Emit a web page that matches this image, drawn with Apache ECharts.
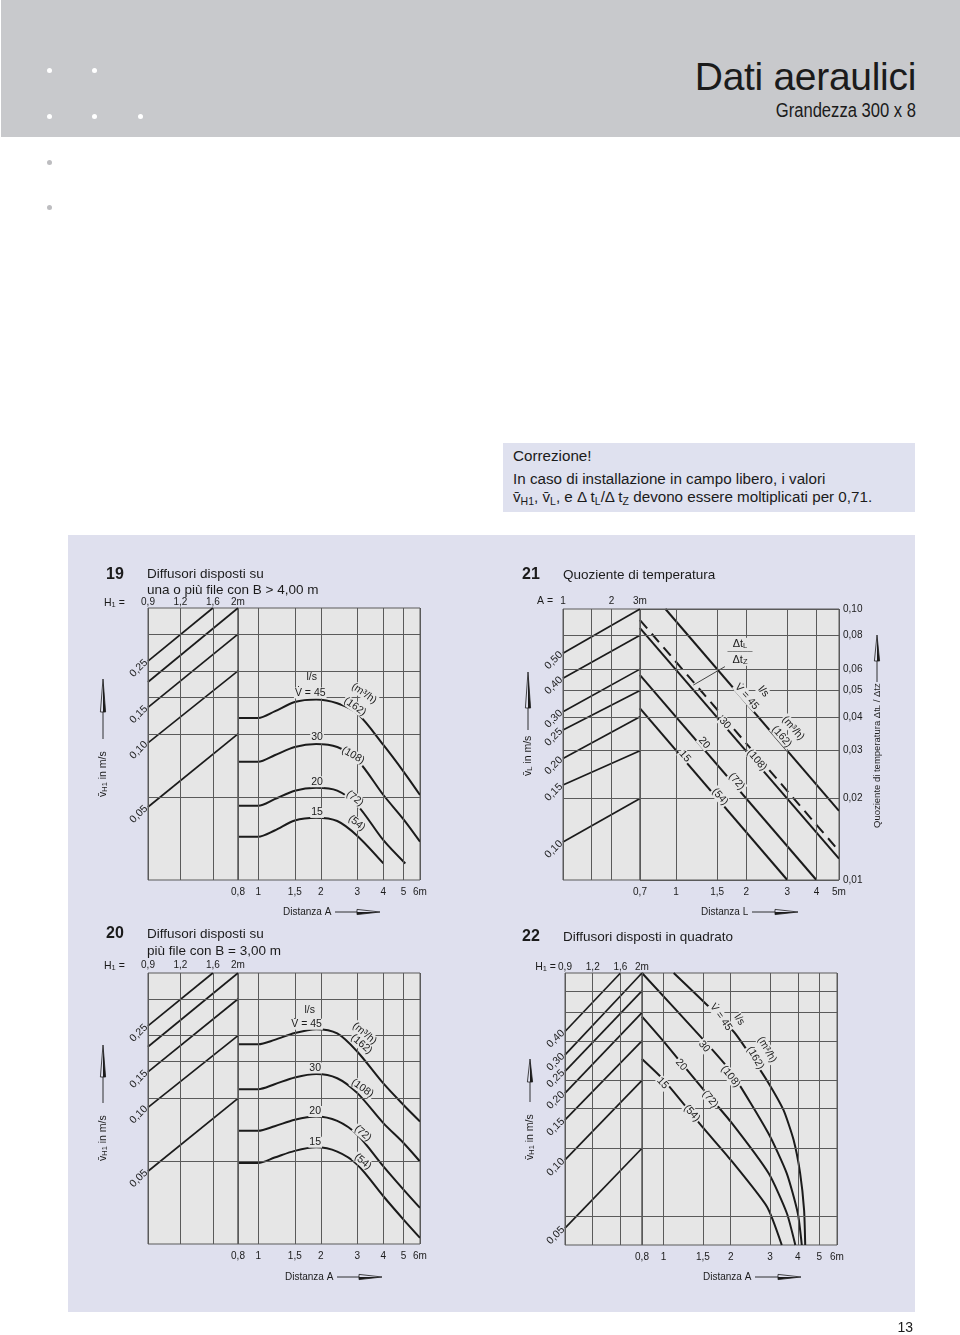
<!DOCTYPE html>
<html lang="it">
<head>
<meta charset="utf-8">
<title>Dati aeraulici</title>
<script src="https://cdn.jsdelivr.net/npm/echarts@6.0.0/dist/echarts.min.js"></script>
<style>
  html, body { margin: 0; padding: 0; background: #fff; }
  body { position: relative; width: 960px; height: 1335px; overflow: hidden; font-family: 'Liberation Sans', Arial, sans-serif; color: #1b1b1b; }
  .fascia { position: absolute; left: 1px; top: 0; width: 959px; height: 137px; background: #c8c9cc; }
  .punto { position: absolute; width: 5px; height: 5px; border-radius: 50%; background: #fff; }
  .punto.grigio { background: #bdbdc0; }
  h1 { position: absolute; right: 44px; top: 57px; margin: 0; font-size: 39px; font-weight: normal; line-height: 1; letter-spacing: -0.3px; white-space: nowrap; }
  .sotto { position: absolute; right: 44px; top: 100px; font-size: 20px; line-height: 1; transform: scaleX(0.83); transform-origin: right center; white-space: nowrap; }
  .nota { position: absolute; left: 503px; top: 443px; width: 412px; height: 69px; background: #dfe1ef; font-size: 15.2px; }
  .nota div { position: absolute; left: 10px; white-space: nowrap; line-height: 1; }
  .nota sub { font-size: 10.5px; line-height: 0; vertical-align: -3px; }
  .pannello { position: absolute; left: 68px; top: 535px; width: 847px; height: 777px; background: #dfe0ee; }
  #grafico { position: absolute; left: 0; top: 0; width: 960px; height: 1335px; }
  .pagina { position: absolute; right: 47px; top: 1320px; font-size: 14px; line-height: 1; }
</style>
</head>
<body>
<div class="fascia"></div>
<div class="punto" style="left:47px;top:68px"></div>
<div class="punto" style="left:92px;top:68px"></div>
<div class="punto" style="left:47px;top:114px"></div>
<div class="punto" style="left:92px;top:114px"></div>
<div class="punto" style="left:138px;top:114px"></div>
<div class="punto grigio" style="left:47px;top:160px"></div>
<div class="punto grigio" style="left:47px;top:205px"></div>
<h1>Dati aeraulici</h1>
<div class="sotto">Grandezza 300 x 8</div>
<div class="nota">
  <div style="top:5px">Correzione!</div>
  <div style="top:28px">In caso di installazione in campo libero, i valori</div>
  <div style="top:46px">v&#772;<sub>H1</sub>, v&#772;<sub>L</sub>, e &Delta; t<sub>L</sub>/&Delta; t<sub>Z</sub> devono essere moltiplicati per 0,71.</div>
</div>
<div class="pannello"></div>
<div id="grafico"></div>
<div class="pagina">13</div>

<script>
const FONT = "'Liberation Sans', Arial, sans-serif";
const INK = '#1b1b1b';
const GRID = '#5a5a5a';
const PLOT = '#e6e6e6';

// assi comuni (19, 20, 22)
const h1Ticks = [0.9, 1.2, 1.6, 2];
const h1Labels = ['0,9', '1,2', '1,6', '2m'];
const distTicks = [0.8, 1, 1.5, 2, 3, 4, 5, 6];
const distLabels = ['0,8', '1', '1,5', '2', '3', '4', '5', '6m'];

// ---- 19: file con B > 4,00 m ----
const vLines19 = [0.05, 0.1, 0.15, 0.2, 0.3];
const diagLabels19 = ['0,25', '', '0,15', '0,10', '0,05'];
const diagStart19 = [0.223, 0.177, 0.134, 0.0905, 0.0447];
const diagEndH19 = [1.6, 2, 2, 2, 2];
const diagEnd19 = [0.4, 0.4, 0.3, 0.2, 0.1];
const dist19 = [0.8, 1, 1.2, 1.5, 1.9, 2.4, 3, 4, 5, 6];
const v19_45 = [0.119, 0.119, 0.128, 0.142, 0.146, 0.140, 0.125, 0.0885, 0.066, 0.051];
const v19_30 = [0.0736, 0.0736, 0.079, 0.0865, 0.0894, 0.0865, 0.075, 0.051, 0.039, 0.0305];
const dist19_20 = [0.8, 1, 1.2, 1.5, 1.9, 2.4, 3, 4, 5.1];
const v19_20 = [0.0453, 0.0453, 0.0487, 0.0535, 0.0552, 0.0535, 0.0455, 0.031, 0.024];
const dist19_15 = [0.8, 1, 1.2, 1.5, 1.9, 2.4, 3, 4];
const v19_15 = [0.0322, 0.0322, 0.0345, 0.0385, 0.0397, 0.0383, 0.0325, 0.024];
const lab19 = ['l/s', 'V\u0307 = 45', '(m³/h)', '(162)', '30', '(108)', '20', '(72)', '15', '(54)'];
const lab19D = [1.81, 1.78, 3.23, 2.92, 1.92, 2.86, 1.92, 2.92, 1.92, 2.98];
const lab19V = [0.186, 0.157, 0.156, 0.135, 0.096, 0.079, 0.059, 0.0491, 0.0421, 0.0374];

// ---- 20: file con B = 3,00 m ----
const diagStart20 = [0.223, 0.177, 0.134, 0.0905, 0.0447];
const diagEnd20 = [0.4, 0.4, 0.3, 0.2, 0.1];
const v20_45 = [0.182, 0.182, 0.191, 0.206, 0.215, 0.205, 0.1675, 0.118, 0.093, 0.0775];
const v20_30 = [0.1107, 0.1107, 0.117, 0.126, 0.131, 0.125, 0.106, 0.0761, 0.0611, 0.0498];
const v20_20 = [0.0699, 0.0699, 0.0735, 0.079, 0.0819, 0.078, 0.0669, 0.0472, 0.0365, 0.0298];
const v20_15 = [0.049, 0.049, 0.052, 0.056, 0.0582, 0.0555, 0.048, 0.0339, 0.0262, 0.0214];
const lab20D = [1.77, 1.71, 3.25, 3.14, 1.88, 3.17, 1.88, 3.19, 1.88, 3.19];
const lab20V = [0.265, 0.227, 0.205, 0.182, 0.14, 0.112, 0.0865, 0.068, 0.0616, 0.0498];

// ---- 21: quoziente di temperatura ----
const aTicks = [1, 1.5, 2, 3];
const aLabels = ['1', '', '2', '3m'];
const distLTicks = [0.7, 1, 1.5, 2, 3, 4, 5];
const distLLabels = ['0,7', '1', '1,5', '2', '3', '4', '5m'];
const qTicks = [0.01, 0.02, 0.03, 0.04, 0.05, 0.06, 0.08, 0.1];
const qLabels = ['0,01', '0,02', '0,03', '0,04', '0,05', '0,06', '0,08', '0,10'];
const vLLabels = ['0,50', '0,40', '0,30', '0,25', '0,20', '0,15', '0,10'];
const vLStart = [0.0687, 0.0555, 0.0418, 0.0358, 0.0281, 0.0224, 0.0138];
const vLEnd = [0.1, 0.08, 0.06, 0.05, 0.04, 0.03, 0.02];
const dL45 = [0.9, 5], q45 = [0.1, 0.018];
const dL30 = [0.7, 5], q30 = [0.085, 0.012];
const dLdt = [0.7, 5], qDt = [0.091, 0.0128];
const dL20 = [0.7, 4], q20 = [0.057, 0.01];
const dL15 = [0.7, 3], q15 = [0.043, 0.01];
const dLead = [1.62, 1.186], qLead = [0.0613, 0.0524];
const lab21 = ['V\u0307 = 45', 'l/s', '(m³/h)', '(162)', '30', '(108)', '20', '(72)', '15', '(54)', '{n|Δt}{s|L}\n{b|─────}\n{n|Δt}{s|Z}'];
const lab21D = [2.01, 2.37, 3.18, 2.84, 1.62, 2.22, 1.32, 1.82, 1.09, 1.545, 1.88];
const lab21Q = [0.0475, 0.0496, 0.0363, 0.0338, 0.0379, 0.0277, 0.0321, 0.0231, 0.0286, 0.0203, 0.0695];

// ---- 22: diffusori in quadrato ----
const vLines22 = [0.025, 0.05, 0.075, 0.1, 0.15, 0.2, 0.25];
const diagLabels22 = ['0,40', '0,30', '0,25', '0,20', '0,15', '0,10', '0,05'];
const diagStart22 = [0.165, 0.130, 0.1097, 0.0879, 0.0669, 0.0444, 0.0221];
const diagEndH22 = [1.6, 2, 2, 2, 2, 2, 2];
const diagEnd22 = [0.3, 0.3, 0.25, 0.2, 0.15, 0.1, 0.05];
const d22_45 = [1.11, 2.06, 2.53, 2.96, 3.45, 3.83, 4.1, 4.27, 4.32];
const v22_45 = [0.3, 0.165, 0.1235, 0.0973, 0.074, 0.0545, 0.0387, 0.0266, 0.0186];
const d22_30 = [0.8, 1.51, 2.0, 2.96, 3.57, 4.0, 4.17];
const v22_30 = [0.3, 0.1515, 0.1097, 0.058, 0.0387, 0.0258, 0.0186];
const d22_20 = [0.8, 1.0, 1.51, 2.0, 2.96, 3.57, 3.9];
const v22_20 = [0.192, 0.149, 0.091, 0.0656, 0.0387, 0.0258, 0.0186];
const d22_15 = [0.8, 1.0, 1.51, 2.0, 2.91, 3.39];
const v22_15 = [0.1245, 0.1006, 0.0614, 0.0444, 0.0275, 0.0186];
const lab22 = ['V\u0307 = 45', 'l/s', '(m³/h)', '(162)', '30', '(108)', '20', '(72)', '15', '(54)'];
const lab22D = [1.81, 2.19, 2.91, 2.58, 1.52, 2.0, 1.2, 1.62, 0.99, 1.34];
const lab22V = [0.191, 0.186, 0.137, 0.126, 0.1415, 0.104, 0.1175, 0.0826, 0.0973, 0.0716];

// rotazione delle scritte sulle curve
const rot19 = [0, 0, -35, -35, 0, -30, 0, -38, 0, -38];
const rot20 = [0, 0, -40, -40, 0, -35, 0, -40, 0, -40];
const rot21 = [-49, -49, -49, -49, -49, -49, -49, -49, -49, -49, 0];
const rot22 = [-55, -55, -60, -60, -50, -52, -48, -50, -48, -48];

const RICH = {
    s: { fontSize: 7.5, lineHeight: 8, verticalAlign: 'bottom', fontFamily: FONT, color: INK },
    n: { fontSize: 11, lineHeight: 12, fontFamily: FONT, color: INK },
    b: { fontSize: 7, lineHeight: 4, fontFamily: FONT, color: INK }
};

const grids = [], xAxes = [], yAxes = [], series = [];

function addGrid(box, xr, yr) {
    const i = grids.length;
    grids.push({ left: box[0], top: box[1], width: box[2], height: box[3], show: true,
        backgroundColor: PLOT, borderColor: GRID, borderWidth: 1 });
    xAxes.push({ type: 'log', gridIndex: i, min: xr[0], max: xr[1], show: false });
    yAxes.push({ type: 'log', gridIndex: i, min: yr[0], max: yr[1], show: false });
    return i;
}

// linee del reticolo con le loro scritte
function griglia(gi, xv, xl, xPos, xDist, yv, yl, yPos, yDist) {
    const data = [];
    xv.forEach((v, k) => data.push({ xAxis: v,
        label: { show: !!(xl && xl[k]), formatter: xl ? xl[k] : '', position: xPos, distance: xDist } }));
    yv.forEach((v, k) => data.push({ yAxis: v,
        label: { show: !!(yl && yl[k]), formatter: yl ? yl[k] : '', position: yPos, distance: yDist } }));
    series.push({ type: 'line', xAxisIndex: gi, yAxisIndex: gi, data: [], z: 1, silent: true,
        markLine: { symbol: 'none', silent: true, animation: false, precision: 5,
            lineStyle: { color: GRID, width: 1, type: 'solid' },
            label: { color: INK, fontSize: 10, fontFamily: FONT },
            emphasis: { disabled: true }, data } });
}

// rette oblique di conversione, con il valore scritto all'inizio
function rette(gi, x0, x1, starts, ends, labels) {
    starts.forEach((s, k) => {
        series.push({ type: 'line', xAxisIndex: gi, yAxisIndex: gi, z: 3, silent: true,
            symbol: 'circle', symbolSize: 0, showSymbol: true,
            lineStyle: { color: INK, width: 1.7 },
            data: [
                { value: [x0, s], label: { show: labels[k] !== '', formatter: labels[k], position: 'left',
                    rotate: 45, distance: 2, fontSize: 10.5, fontFamily: FONT, color: INK } },
                [Array.isArray(x1) ? x1[k] : x1, ends[k]]
            ] });
    });
}

function curva(gi, xs, ys, extra) {
    series.push(Object.assign({ type: 'line', xAxisIndex: gi, yAxisIndex: gi, z: 3, silent: true,
        showSymbol: false, smooth: 0.3,
        lineStyle: { color: INK, width: 2 },
        data: xs.map((x, k) => [x, ys[k]]) }, extra || {}));
}

function scritte(gi, texts, xs, ys, rots) {
    series.push({ type: 'line', xAxisIndex: gi, yAxisIndex: gi, data: [], z: 5, silent: true,
        markPoint: { symbol: 'circle', symbolSize: 0, silent: true, animation: false,
            itemStyle: { color: 'rgba(0,0,0,0)' },
            label: { show: true, position: 'inside', color: INK, fontSize: 10.5, fontFamily: FONT,
                backgroundColor: PLOT, padding: [0, 1], rich: RICH },
            data: texts.map((t, k) => ({ coord: [xs[k], ys[k]], value: 0,
                label: { formatter: t, rotate: rots[k] } })) } });
}

// ---------- 19 ----------
const g19a = addGrid([148, 608, 90, 272], [0.9, 2], [0.02, 0.4]);
const g19b = addGrid([238, 608, 182, 272], [0.8, 6], [0.02, 0.4]);
griglia(g19a, h1Ticks, h1Labels, 'end', 1, vLines19, null);
griglia(g19b, distTicks, distLabels, 'start', 7, vLines19, null);
rette(g19a, 0.9, diagEndH19, diagStart19, diagEnd19, diagLabels19);
curva(g19b, dist19, v19_45);
curva(g19b, dist19, v19_30);
curva(g19b, dist19_20, v19_20);
curva(g19b, dist19_15, v19_15);
scritte(g19b, lab19, lab19D, lab19V, rot19);

// ---------- 20 ----------
const g20a = addGrid([148, 973, 90, 271], [0.9, 2], [0.02, 0.4]);
const g20b = addGrid([238, 973, 182, 271], [0.8, 6], [0.02, 0.4]);
griglia(g20a, h1Ticks, h1Labels, 'end', 3, vLines19, null);
griglia(g20b, distTicks, distLabels, 'start', 7, vLines19, null);
rette(g20a, 0.9, diagEndH19, diagStart20, diagEnd20, diagLabels19);
curva(g20b, dist19, v20_45);
curva(g20b, dist19, v20_30);
curva(g20b, dist19, v20_20);
curva(g20b, dist19, v20_15);
scritte(g20b, lab19, lab20D, lab20V, rot20);

// ---------- 21 ----------
const g21a = addGrid([563, 609, 77, 271], [1, 3], [0.01, 0.1]);
const g21b = addGrid([640, 609, 199, 271], [0.7, 5], [0.01, 0.1]);
griglia(g21a, aTicks, aLabels, 'end', 3, qTicks.slice(1, -1), null);
griglia(g21b, distLTicks, distLLabels, 'start', 7, qTicks, qLabels, 'end', 4);
rette(g21a, 1, 3, vLStart, vLEnd, vLLabels);
curva(g21b, dL45, q45, { smooth: false });
curva(g21b, dL30, q30, { smooth: false });
curva(g21b, dLdt, qDt, { smooth: false, lineStyle: { color: INK, width: 2, type: [11, 7] } });
curva(g21b, dL20, q20, { smooth: false });
curva(g21b, dL15, q15, { smooth: false });
curva(g21b, dLead, qLead, { smooth: false, lineStyle: { color: INK, width: 0.8 } });
scritte(g21b, lab21, lab21D, lab21Q, rot21);

// ---------- 22 ----------
const g22a = addGrid([565, 973, 77, 272], [0.9, 2], [0.0186, 0.3]);
const g22b = addGrid([642, 973, 195, 272], [0.8, 6], [0.0186, 0.3]);
griglia(g22a, h1Ticks, h1Labels, 'end', 1, vLines22, null);
griglia(g22b, distTicks, distLabels, 'start', 7, vLines22, null);
rette(g22a, 0.9, diagEndH22, diagStart22, diagEnd22, diagLabels22);
curva(g22b, d22_45, v22_45, { smooth: 0.2 });
curva(g22b, d22_30, v22_30, { smooth: 0.2 });
curva(g22b, d22_20, v22_20, { smooth: 0.2 });
curva(g22b, d22_15, v22_15, { smooth: 0.2 });
scritte(g22b, lab22, lab22D, lab22V, rot22);

// ---------- testi e frecce ----------
function testo(x, y, text, size, extra) {
    return Object.assign({ type: 'text', x, y, silent: true,
        style: { text, fontSize: size, fontFamily: FONT, fill: INK, align: 'left', verticalAlign: 'middle', rich: RICH } },
        extra || {});
}
function numero(x, y, text) {
    return testo(x, y, text, 16, { style: { text, fontSize: 16, fontWeight: 'bold', fontFamily: FONT, fill: INK, align: 'left', verticalAlign: 'middle' } });
}
function freccia(a, b) {
    return [
        { type: 'polygon', shape: { points: [[a, -2.6], [b, 0], [a, 2.6]] }, style: { fill: 'none', stroke: INK, lineWidth: 0.8 } },
        { type: 'polygon', shape: { points: [[a, 0], [b, 0], [a, 2.6]] }, style: { fill: INK } }
    ];
}
// titolo d'asse con linea e freccia; rot = PI/2 per i titoli verticali
function titoloAsse(x, y, text, size, l1, l2, l3, rot) {
    return { type: 'group', x, y, rotation: rot, silent: true, children: [
        { type: 'text', x: 0, y: 0, style: { text, fontSize: size, fontFamily: FONT, fill: INK, align: 'left', verticalAlign: 'middle', rich: RICH } },
        { type: 'line', shape: { x1: l1, y1: 0, x2: l2, y2: 0 }, style: { stroke: INK, lineWidth: 0.9 } }
    ].concat(freccia(l2, l3)) };
}
const UP = Math.PI / 2;

const graphic = [
    numero(106, 575, '19'),
    testo(147, 574, 'Diffusori disposti su', 13.5),
    testo(147, 590, 'una o più file con B > 4,00 m', 13.5),
    testo(104, 603, 'H{s|1} =', 10.5),
    titoloAsse(103, 797, 'v\u0304{s|H1} in m/s', 10.5, 58, 85, 118, UP),
    titoloAsse(283, 912, 'Distanza A', 10, 52, 74, 97, 0),

    numero(106, 934, '20'),
    testo(147, 934, 'Diffusori disposti su', 13.5),
    testo(147, 951, 'più file con B = 3,00 m', 13.5),
    testo(104, 966, 'H{s|1} =', 10.5),
    titoloAsse(103, 1161, 'v\u0304{s|H1} in m/s', 10.5, 58, 84, 116, UP),
    titoloAsse(285, 1277, 'Distanza A', 10, 52, 74, 97, 0),

    numero(522, 575, '21'),
    testo(563, 575, 'Quoziente di temperatura', 13.5),
    testo(537, 601, 'A =', 10.5),
    titoloAsse(528, 776, 'v\u0304{s|L} in m/s', 10.5, 46, 68, 104, UP),
    titoloAsse(877, 828, 'Quoziente di temperatura Δt{s|L} / Δt{s|Z}', 9.5, 146, 167, 193, UP),
    titoloAsse(701, 912, 'Distanza L', 10, 51, 74, 97, 0),

    numero(522, 937, '22'),
    testo(563, 937, 'Diffusori disposti in quadrato', 13.5),
    testo(556, 967, 'H{s|1} =', 10.5, { style: { text: 'H{s|1} =', fontSize: 10.5, fontFamily: FONT, fill: INK, align: 'right', verticalAlign: 'middle', rich: RICH } }),
    titoloAsse(530, 1160, 'v\u0304{s|H1} in m/s', 10.5, 58, 78, 101, UP),
    titoloAsse(703, 1277, 'Distanza A', 10, 52, 75, 98, 0)
];

const chart = echarts.init(document.getElementById('grafico'));
chart.setOption({
    animation: false,
    textStyle: { fontFamily: FONT },
    grid: grids,
    xAxis: xAxes,
    yAxis: yAxes,
    series,
    graphic
});
window.addEventListener('resize', () => chart.resize());
</script>
</body>
</html>
